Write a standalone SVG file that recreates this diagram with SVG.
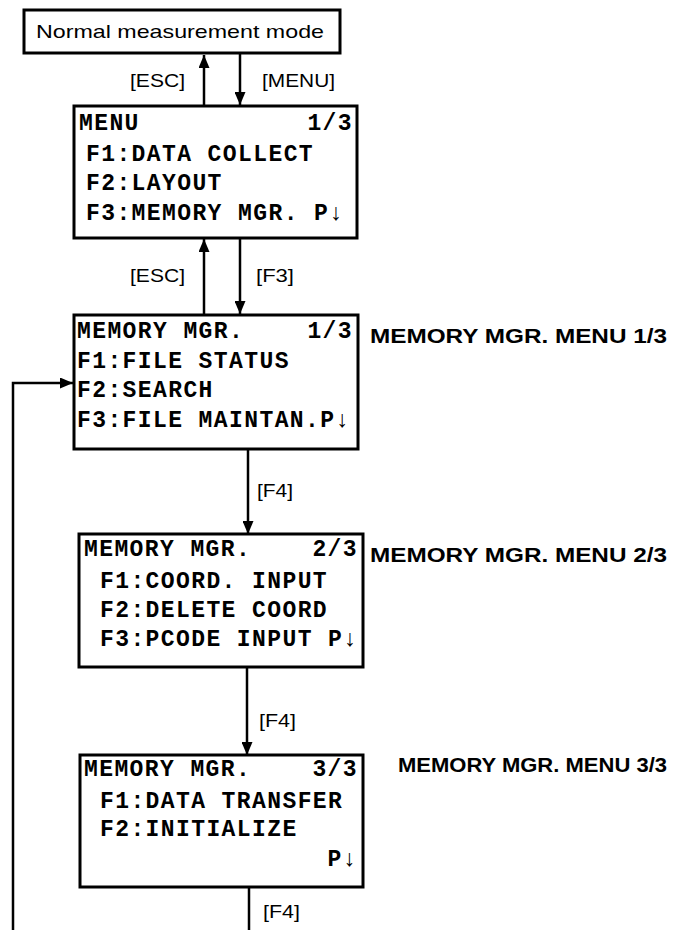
<svg xmlns="http://www.w3.org/2000/svg" width="677" height="930" viewBox="0 0 677 930">
<style>
.box{fill:#fff;stroke:#000;stroke-width:3}
.lcd{font-family:"Liberation Mono","Courier New",monospace;font-weight:bold;font-size:23px;letter-spacing:1.4px;fill:#000}
.sans{font-family:"Liberation Sans",Arial,sans-serif;font-size:19px;fill:#000}
.lbl{font-family:"Liberation Sans",Arial,sans-serif;font-size:21px;font-weight:bold;fill:#000}
.con{fill:none;stroke:#000;stroke-width:2.5}
</style>
<defs>
<marker id="ah" viewBox="0 0 13 11" refX="13" refY="5.5" markerWidth="13" markerHeight="11" markerUnits="userSpaceOnUse" orient="auto"><path d="M0,0 L13,5.5 L0,11 z" fill="#000"/></marker>
</defs>
<rect width="677" height="930" fill="#fff"/>
<g id="connectors">
<line class="con" x1="204" y1="106" x2="204" y2="55" marker-end="url(#ah)"/>
<line class="con" x1="240" y1="54" x2="240" y2="105" marker-end="url(#ah)"/>
<line class="con" x1="204" y1="314" x2="204" y2="239" marker-end="url(#ah)"/>
<line class="con" x1="240" y1="238" x2="240" y2="314" marker-end="url(#ah)"/>
<line class="con" x1="248" y1="449" x2="248" y2="534" marker-end="url(#ah)"/>
<line class="con" x1="247" y1="667" x2="247" y2="755" marker-end="url(#ah)"/>
<line class="con" x1="249" y1="887" x2="249" y2="930"/>
<polyline class="con" points="13,930 13,383 73,383" marker-end="url(#ah)"/>
<text class="sans" x="130" y="87" textLength="55" lengthAdjust="spacingAndGlyphs">[ESC]</text>
<text class="sans" x="262" y="87" textLength="73" lengthAdjust="spacingAndGlyphs">[MENU]</text>
<text class="sans" x="130" y="282" textLength="55" lengthAdjust="spacingAndGlyphs">[ESC]</text>
<text class="sans" x="256" y="282" textLength="38" lengthAdjust="spacingAndGlyphs">[F3]</text>
<text class="sans" x="257" y="497" textLength="36" lengthAdjust="spacingAndGlyphs">[F4]</text>
<text class="sans" x="259" y="727" textLength="37" lengthAdjust="spacingAndGlyphs">[F4]</text>
<text class="sans" x="263" y="918" textLength="37" lengthAdjust="spacingAndGlyphs">[F4]</text>
</g>
<g id="normal">
<rect class="box" x="24" y="10" width="316" height="43"/>
<text class="sans" x="36" y="38" textLength="288" lengthAdjust="spacingAndGlyphs">Normal measurement mode</text>
</g>
<g id="menu">
<rect class="box" x="74" y="106" width="283" height="132"/>
<text class="lcd" x="79" y="130">MENU</text>
<text class="lcd" x="353" y="130" text-anchor="end">1/3</text>
<text class="lcd" x="86" y="161">F1:DATA COLLECT</text>
<text class="lcd" x="86" y="190">F2:LAYOUT</text>
<text class="lcd" x="86" y="220">F3:MEMORY MGR. P↓</text>
</g>
<g id="mm1">
<rect class="box" x="74" y="315" width="284" height="134"/>
<text class="lcd" x="77" y="338">MEMORY MGR.</text>
<text class="lcd" x="353" y="338" text-anchor="end">1/3</text>
<text class="lcd" x="77" y="368">F1:FILE STATUS</text>
<text class="lcd" x="77" y="397">F2:SEARCH</text>
<text class="lcd" x="77" y="427">F3:FILE MAINTAN.P↓</text>
<text class="lbl" x="370" y="343" textLength="297" lengthAdjust="spacingAndGlyphs">MEMORY MGR. MENU 1/3</text>
</g>
<g id="mm2">
<rect class="box" x="79" y="534" width="284" height="133"/>
<text class="lcd" x="84" y="556">MEMORY MGR.</text>
<text class="lcd" x="358" y="556" text-anchor="end">2/3</text>
<text class="lcd" x="100" y="588">F1:COORD. INPUT</text>
<text class="lcd" x="100" y="617">F2:DELETE COORD</text>
<text class="lcd" x="100" y="646">F3:PCODE INPUT P↓</text>
<text class="lbl" x="370" y="562" textLength="297" lengthAdjust="spacingAndGlyphs">MEMORY MGR. MENU 2/3</text>
</g>
<g id="mm3">
<rect class="box" x="80" y="755" width="283" height="132"/>
<text class="lcd" x="84" y="776">MEMORY MGR.</text>
<text class="lcd" x="358" y="776" text-anchor="end">3/3</text>
<text class="lcd" x="100" y="808">F1:DATA TRANSFER</text>
<text class="lcd" x="100" y="836">F2:INITIALIZE</text>
<text class="lcd" x="358" y="866" text-anchor="end">P↓</text>
<text class="lbl" x="398" y="772" textLength="269" lengthAdjust="spacingAndGlyphs">MEMORY MGR. MENU 3/3</text>
</g>
</svg>
